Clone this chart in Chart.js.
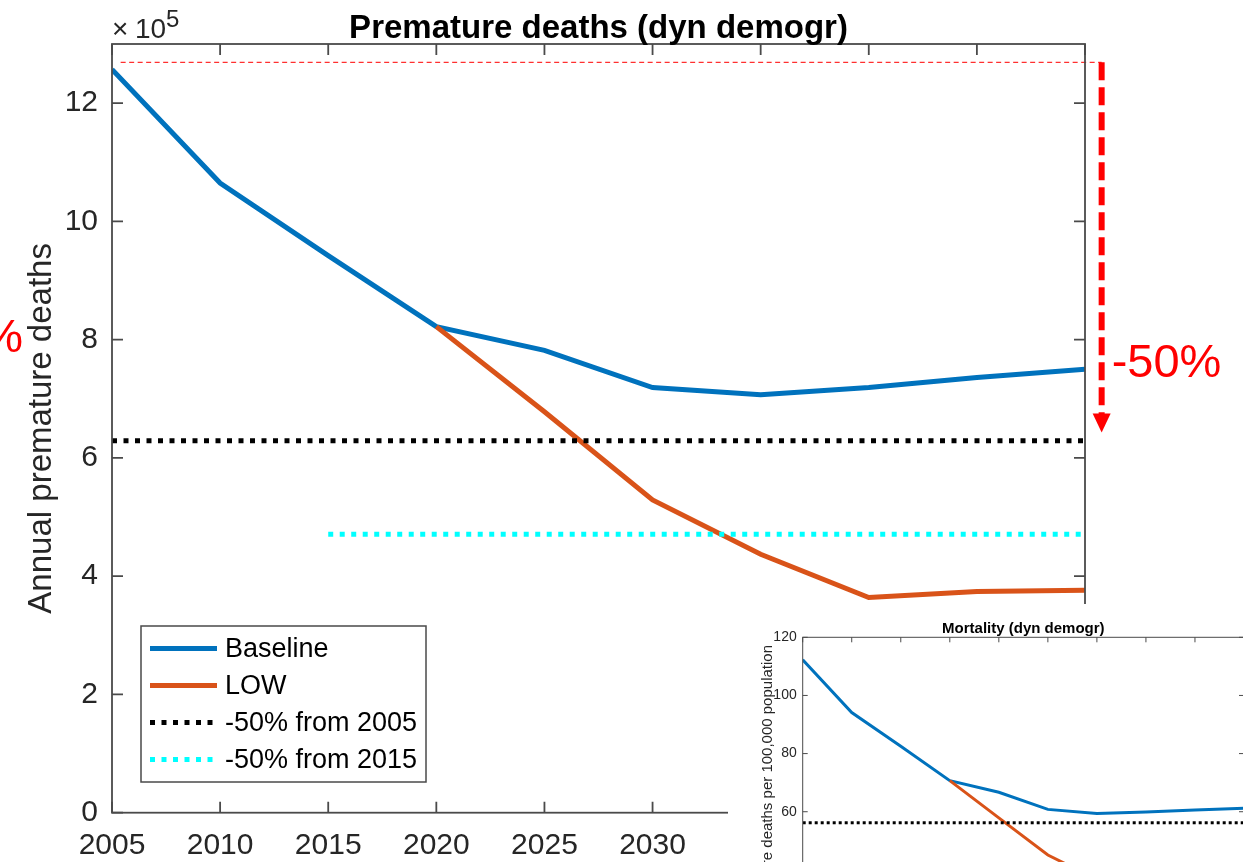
<!DOCTYPE html>
<html>
<head>
<meta charset="utf-8">
<script src="https://cdn.jsdelivr.net/npm/chart.js@4.4.1/dist/chart.umd.min.js"></script>
<style>
  html, body { margin: 0; padding: 0; background: #fff; width: 1243px; height: 862px; overflow: hidden; }
  #wrap { position: relative; width: 1243px; height: 862px; overflow: hidden; }
  #mainChart { position: absolute; left: 0; top: 0; }
  #insetChart { position: absolute; left: 728px; top: 604px; }
</style>
</head>
<body>
<div id="wrap">
  <canvas id="mainChart" width="1243" height="862"></canvas>
  <canvas id="insetChart" width="520" height="380"></canvas>
</div>
<script>
const FONT = '"Liberation Sans", Arial, Helvetica, sans-serif';
const AXIS_COLOR = "#4a4a4a";
const TEXT_COLOR = "#262626";
const BLUE = "#0072BD";
const ORANGE = "#D95319";

// main chart: annual premature deaths (x 1e5)
const years = [2005, 2010, 2015, 2020, 2025, 2030, 2035, 2040, 2045, 2050];
const baselineDeaths = [12.57, 10.65, 9.42, 8.22, 7.82, 7.19, 7.07, 7.19, 7.36, 7.50];
const lowYears = [2020, 2025, 2030, 2035, 2040, 2045, 2050];
const lowDeaths = [8.22, 6.78, 5.29, 4.37, 3.64, 3.74, 3.76];
const target2005Years = [2005, 2050];
const target2005 = 6.29;
const target2015Years = [2015, 2050];
const target2015 = 4.71;
const refLineYears = [2005.4, 2050.77];
const refLevel = 12.69;
const arrowYear = 2050.77;
const arrowEnd = 6.43;
const yTicks = [0, 2, 4, 6, 8, 10, 12];
const xTicks = [2005, 2010, 2015, 2020, 2025, 2030, 2035, 2040, 2045, 2050];

// inset: mortality per 100,000 population
const insetBaseline = [112.3, 94.1, 82.5, 70.7, 66.7, 60.8, 59.4, 59.9, 60.6, 61.2];
const insetLow = [70.7, 57.9, 45.1, 36.7, 30.3, 30.9, 30.8];
const insetTarget = 56.2;
const insetYTicks = [20, 40, 60, 80, 100, 120];

function toPoints(xs, ys) {
  return xs.map((x, i) => ({ x: x, y: Array.isArray(ys) ? ys[i] : ys }));
}

function drawBoxAndTicks(ctx, a, xs, ys, xScale, yScale, len, width) {
  ctx.save();
  ctx.strokeStyle = AXIS_COLOR;
  ctx.lineWidth = width;
  ctx.setLineDash([]);
  ctx.beginPath();
  ys.forEach((v) => {
    const p = yScale.getPixelForValue(v);
    ctx.moveTo(a.left, p); ctx.lineTo(a.left + len, p);
    ctx.moveTo(a.right, p); ctx.lineTo(a.right - len, p);
  });
  xs.forEach((v) => {
    const p = xScale.getPixelForValue(v);
    ctx.moveTo(p, a.bottom); ctx.lineTo(p, a.bottom - len);
    ctx.moveTo(p, a.top); ctx.lineTo(p, a.top + len);
  });
  ctx.stroke();
  ctx.strokeRect(a.left, a.top, a.right - a.left, a.bottom - a.top);
  ctx.restore();
}

const mainDecor = {
  id: "mainDecor",
  afterDraw(chart) {
    const { ctx, chartArea: a, scales: { x, y } } = chart;
    drawBoxAndTicks(ctx, a, xTicks, yTicks, x, y, 11, 1.8);

    ctx.save();
    // title
    ctx.fillStyle = "#000";
    ctx.font = `bold 33px ${FONT}`;
    ctx.textAlign = "center";
    ctx.textBaseline = "alphabetic";
    ctx.fillText("Premature deaths (dyn demogr)", (a.left + a.right) / 2, 38);

    // exponent
    ctx.fillStyle = TEXT_COLOR;
    ctx.textAlign = "left";
    ctx.font = `28px ${FONT}`;
    ctx.fillText("\u00d7", a.left, 38);
    ctx.fillText("10", a.left + 23, 38);
    ctx.font = `24px ${FONT}`;
    ctx.fillText("5", a.left + 54, 27);

    // y label
    ctx.save();
    ctx.translate(51, (a.top + a.bottom) / 2);
    ctx.rotate(-Math.PI / 2);
    ctx.textAlign = "center";
    ctx.font = `33px ${FONT}`;
    ctx.fillText("Annual premature deaths", 0, 0);
    ctx.restore();

    // red arrow
    const ax = x.getPixelForValue(arrowYear);
    const top = y.getPixelForValue(refLevel);
    const tip = y.getPixelForValue(arrowEnd);
    ctx.strokeStyle = "#FF0000";
    ctx.fillStyle = "#FF0000";
    ctx.lineWidth = 6;
    ctx.setLineDash([18, 7]);
    ctx.beginPath();
    ctx.moveTo(ax, top);
    ctx.lineTo(ax, tip - 17);
    ctx.stroke();
    ctx.setLineDash([]);
    ctx.beginPath();
    ctx.moveTo(ax - 9, tip - 19);
    ctx.lineTo(ax + 9, tip - 19);
    ctx.lineTo(ax, tip);
    ctx.closePath();
    ctx.fill();

    ctx.font = `47px ${FONT}`;
    ctx.textAlign = "left";
    ctx.fillText("-50%", ax + 10, 377);
    ctx.textAlign = "right";
    ctx.fillText("%", 23, 352);

    // legend
    const items = chart.data.datasets.filter((d) => d.inLegend);
    const lx = 141, ly = 626, lw = 285, lh = 156;
    ctx.fillStyle = "#fff";
    ctx.fillRect(lx, ly, lw, lh);
    ctx.strokeStyle = AXIS_COLOR;
    ctx.lineWidth = 1.5;
    ctx.strokeRect(lx, ly, lw, lh);
    ctx.font = `27px ${FONT}`;
    ctx.textBaseline = "middle";
    ctx.textAlign = "left";
    items.forEach((d, i) => {
      const cy = 648.5 + i * 37;
      ctx.strokeStyle = d.borderColor;
      ctx.lineWidth = d.borderWidth;
      ctx.setLineDash(d.borderDash || []);
      ctx.beginPath();
      ctx.moveTo(150, cy);
      ctx.lineTo(217, cy);
      ctx.stroke();
      ctx.setLineDash([]);
      ctx.fillStyle = "#000";
      ctx.fillText(d.label, 225, cy + 1);
    });
    ctx.restore();
  }
};

new Chart(document.getElementById("mainChart"), {
  type: "line",
  data: {
    datasets: [
      { label: "Baseline", data: toPoints(years, baselineDeaths), borderColor: BLUE, borderWidth: 5, inLegend: true, order: 5 },
      { label: "LOW", data: toPoints(lowYears, lowDeaths), borderColor: ORANGE, borderWidth: 5, inLegend: true, order: 4 },
      { label: "-50% from 2005", data: toPoints(target2005Years, target2005), borderColor: "#000000", borderWidth: 5, borderDash: [5, 6.5], inLegend: true, order: 3 },
      { label: "-50% from 2015", data: toPoints(target2015Years, target2015), borderColor: "#00FFFF", borderWidth: 5, borderDash: [5, 6.5], inLegend: true, order: 2 },
      { label: "ref", data: toPoints(refLineYears, refLevel), borderColor: "#FF3030", borderWidth: 1.3, borderDash: [5, 3.5], clip: false, inLegend: false, order: 1 }
    ]
  },
  options: {
    responsive: false,
    animation: false,
    events: [],
    elements: { point: { radius: 0 }, line: { tension: 0, fill: false } },
    layout: { padding: { left: 0, top: 44, right: 158, bottom: 0 } },
    plugins: { legend: { display: false }, tooltip: { enabled: false }, title: { display: false } },
    scales: {
      x: {
        type: "linear",
        min: 2005,
        max: 2050,
        afterFit: (s) => { s.height = 49.3; },
        afterBuildTicks: (s) => { s.ticks = xTicks.map((v) => ({ value: v })); },
        grid: { display: false, drawTicks: false },
        border: { display: false },
        ticks: { color: TEXT_COLOR, font: { family: FONT, size: 30 }, padding: 15, maxRotation: 0, autoSkip: false, callback: (v) => String(v) }
      },
      y: {
        min: 0,
        max: 13,
        afterFit: (s) => { s.width = 112; },
        afterBuildTicks: (s) => { s.ticks = yTicks.map((v) => ({ value: v })); },
        grid: { display: false, drawTicks: false },
        border: { display: false },
        ticks: { color: TEXT_COLOR, font: { family: FONT, size: 30 }, padding: 14, callback: (v) => String(v) }
      }
    }
  },
  plugins: [mainDecor]
});

const insetDecor = {
  id: "insetDecor",
  beforeDraw(chart) {
    const { ctx } = chart;
    ctx.save();
    ctx.fillStyle = "#fff";
    ctx.fillRect(0, 0, chart.width, chart.height);
    ctx.restore();
  },
  afterDraw(chart) {
    const { ctx, chartArea: a, scales: { x, y } } = chart;
    drawBoxAndTicks(ctx, a, xTicks, insetYTicks, x, y, 5, 1);
    ctx.save();
    ctx.fillStyle = "#000";
    ctx.font = `bold 15px ${FONT}`;
    ctx.textAlign = "center";
    ctx.fillText("Mortality (dyn demogr)", (a.left + a.right) / 2, 29);
    ctx.fillStyle = TEXT_COLOR;
    ctx.translate(44, 41);
    ctx.rotate(-Math.PI / 2);
    ctx.font = `15px ${FONT}`;
    ctx.textAlign = "right";
    ctx.fillText("Premature deaths per 100,000 population", 0, 0);
    ctx.restore();
  }
};

new Chart(document.getElementById("insetChart"), {
  type: "line",
  data: {
    datasets: [
      { label: "Baseline", data: toPoints(years, insetBaseline), borderColor: BLUE, borderWidth: 3, order: 3 },
      { label: "LOW", data: toPoints(lowYears, insetLow), borderColor: ORANGE, borderWidth: 3, order: 2 },
      { label: "-50% from 2005", data: toPoints(target2005Years, insetTarget), borderColor: "#000000", borderWidth: 3, borderDash: [3, 3], order: 1 }
    ]
  },
  options: {
    responsive: false,
    animation: false,
    events: [],
    elements: { point: { radius: 0 }, line: { tension: 0, fill: false } },
    layout: { padding: { left: 0, top: 33.3, right: 4, bottom: 0 } },
    plugins: { legend: { display: false }, tooltip: { enabled: false } },
    scales: {
      x: {
        type: "linear",
        min: 2005,
        max: 2050,
        afterFit: (s) => { s.height = 380 - 324; },
        afterBuildTicks: (s) => { s.ticks = xTicks.map((v) => ({ value: v })); },
        grid: { display: false, drawTicks: false },
        border: { display: false },
        ticks: { display: false }
      },
      y: {
        min: 20,
        max: 120,
        afterFit: (s) => { s.width = 74.7; },
        afterBuildTicks: (s) => { s.ticks = insetYTicks.map((v) => ({ value: v })); },
        grid: { display: false, drawTicks: false },
        border: { display: false },
        ticks: { color: TEXT_COLOR, font: { family: FONT, size: 14 }, padding: 6, callback: (v) => String(v) }
      }
    }
  },
  plugins: [insetDecor]
});
</script>
</body>
</html>
